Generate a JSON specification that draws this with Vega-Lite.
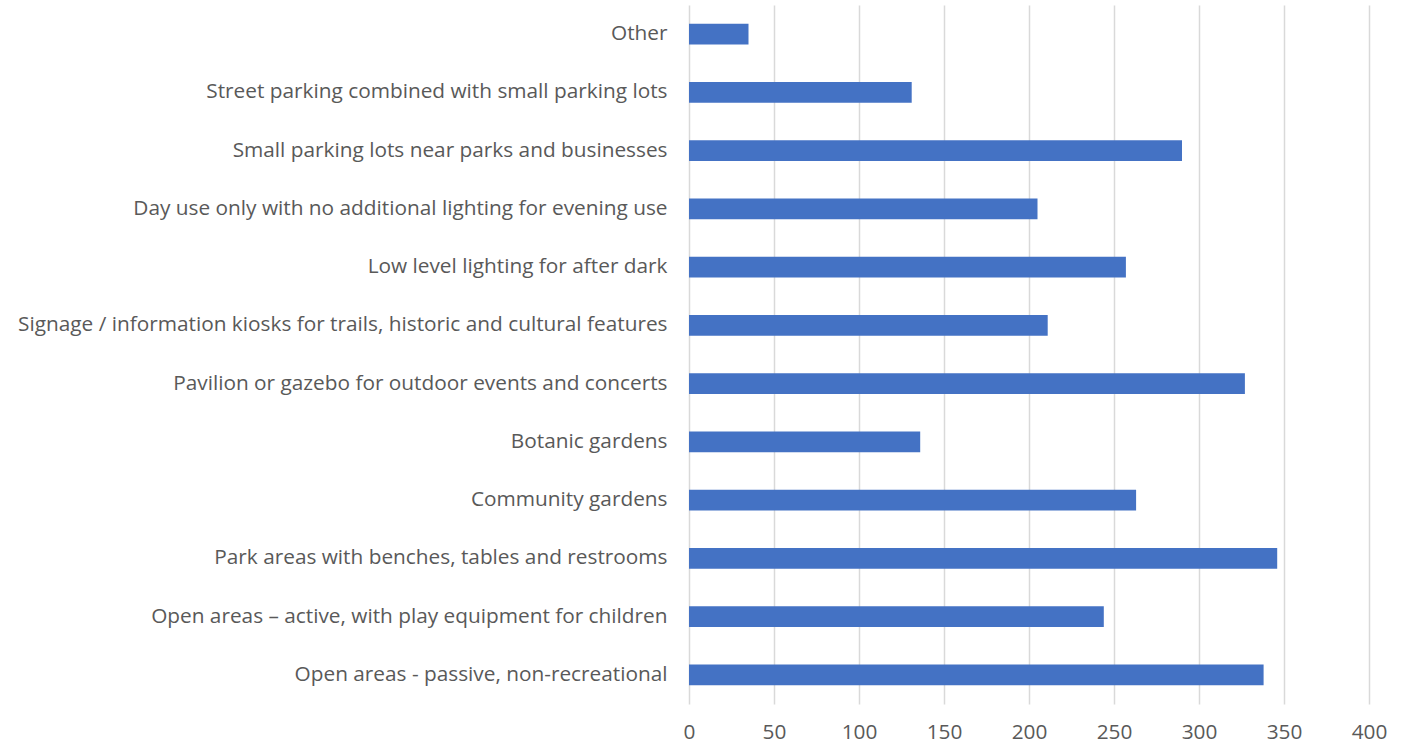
{
  "$schema": "https://vega.github.io/schema/vega-lite/v6.json",
  "autosize": {"type": "none"},
  "padding": {"left": 689, "top": 5, "right": 34, "bottom": 44},
  "width": 680,
  "height": 699,
  "background": "white",
  "config": {
    "view": {"stroke": null},
    "axis": {"labelFont": "Open Sans", "labelColor": "#595959", "labelFontSize": 20.8}
  },
  "data": {
    "values": [
      {"category": "Other", "count": 35},
      {"category": "Street parking combined with small parking lots", "count": 131},
      {"category": "Small parking lots near parks and businesses", "count": 290},
      {"category": "Day use only with no additional lighting for evening use", "count": 205},
      {"category": "Low level lighting for after dark", "count": 257},
      {"category": "Signage / information kiosks for trails, historic and cultural features", "count": 211},
      {"category": "Pavilion or gazebo for outdoor events and concerts", "count": 327},
      {"category": "Botanic gardens", "count": 136},
      {"category": "Community gardens", "count": 263},
      {"category": "Park areas with benches, tables and restrooms", "count": 346},
      {"category": "Open areas – active, with play equipment for children", "count": 244},
      {"category": "Open areas - passive, non-recreational", "count": 338}
    ]
  },
  "mark": {"type": "bar", "color": "#4472C4"},
  "encoding": {
    "y": {
      "field": "category",
      "type": "nominal",
      "sort": null,
      "scale": {"paddingInner": 0.64, "paddingOuter": 0.32},
      "axis": {"title": null, "ticks": false, "domain": false, "labelPadding": 22, "labelLimit": 0}
    },
    "x": {
      "field": "count",
      "type": "quantitative",
      "scale": {"domain": [0, 400], "nice": false},
      "axis": {
        "title": null,
        "values": [0, 50, 100, 150, 200, 250, 300, 350, 400],
        "ticks": false,
        "domain": false,
        "grid": true,
        "gridColor": "#d9d9d9",
        "gridWidth": 1.5,
        "labelFlush": false,
        "labelPadding": 18
      }
    }
  }
}
